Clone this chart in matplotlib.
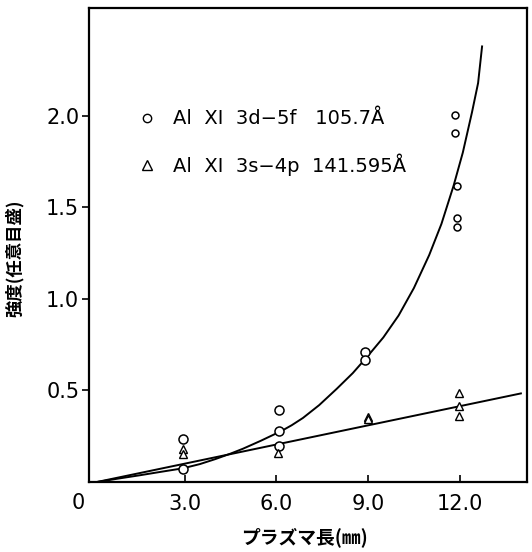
import numpy as np
import matplotlib
matplotlib.use('Agg')
import matplotlib.pyplot as plt
from matplotlib.lines import Line2D

# circles: Al XI 3d-5f 105.7A
circle_x = [2.95, 2.95, 6.1, 6.1, 6.1, 8.9, 8.9, 11.85, 11.85, 11.9, 11.9, 11.9]
circle_y = [0.233, 0.069, 0.391, 0.277, 0.195, 0.713, 0.664, 2.005, 1.907, 1.618, 1.443, 1.395]

# triangles: Al XI 3s-4p 141.595A
tri_x = [2.95, 2.95, 6.05, 9.0, 9.0, 11.98, 11.98, 11.98]
tri_y = [0.178, 0.151, 0.157, 0.353, 0.343, 0.484, 0.418, 0.358]

# hand drawn curve through the circles
curve_x = [0.13, 0.8, 1.54, 2.2, 2.95, 3.5, 4.0, 4.5, 4.91, 5.5, 6.18, 6.5, 6.87, 7.4, 7.98,
           8.5, 9.0, 9.5, 10.0, 10.5, 11.0, 11.4, 11.8, 12.1, 12.4, 12.6, 12.73]
curve_y = [0.0, 0.018, 0.037, 0.055, 0.075, 0.098, 0.125, 0.155, 0.182, 0.226, 0.28, 0.31, 0.35, 0.42, 0.51,
           0.595, 0.69, 0.79, 0.91, 1.06, 1.24, 1.41, 1.62, 1.8, 2.02, 2.18, 2.38]

# straight line through the triangles
line_x = [0.13, 14.0]
line_y = [0.0, 0.484]

xticks = [3.0, 6.0, 9.0, 12.0]
yticks = [0.5, 1.0, 1.5, 2.0]

labels = ['Al  XI  3d\u22125f   105.7\u00c5', 'Al  XI  3s\u22124p  141.595\u00c5']

plt.rcParams['font.family'] = ['DejaVu Sans']
jp = ['Noto Sans CJK JP', 'DejaVu Sans']

fig = plt.figure(figsize=(5.32, 5.52), dpi=100)
ax = fig.add_axes([89/532, 1-482/552, (527-89)/532, (482-8)/552])

ax.plot(curve_x, curve_y, color='black', lw=1.4)
ax.plot(line_x, line_y, color='black', lw=1.4)

cx = np.array(circle_x); cy = np.array(circle_y)
big = cx < 11
ax.plot(cx[big], cy[big], 'o', ms=6.5, mfc='white', mec='black', mew=1.1, ls='none')
ax.plot(cx[~big], cy[~big], 'o', ms=5, mfc='white', mec='black', mew=1.1, ls='none')
ax.plot(tri_x, tri_y, '^', ms=6, mfc='white', mec='black', mew=1.0, ls='none')

ax.set_xlim(-0.13, 14.2)
ax.set_ylim(0, 2.59)
ax.set_xticks(xticks)
ax.set_xticklabels([f'{v:.1f}' for v in xticks])
ax.set_yticks(yticks)
ax.set_yticklabels([f'{v:.1f}' for v in yticks])
ax.tick_params(axis='x', direction='in', length=5, width=1.2, pad=9, labelsize=15)
ax.tick_params(axis='y', direction='out', length=5, width=1.2, pad=2, labelsize=15)
for s in ax.spines.values():
    s.set_linewidth(1.6)

ax.annotate('0', xy=(0, 0), xytext=(-15, -21), textcoords='offset pixels',
            ha='center', va='center', fontsize=15)

ax.set_xlabel('プラズマ長(㎜)', family=jp, fontsize=13.5, fontweight='bold')
ax.xaxis.set_label_coords(0.491, -0.095)
ax.set_ylabel('強度(任意目盛)', family=jp, fontsize=12.5, fontweight='bold')
ax.yaxis.set_label_coords(-0.148, 0.473)

handles = [Line2D([], [], marker='o', ls='none', ms=6, mfc='white', mec='black', mew=1.0),
           Line2D([], [], marker='^', ls='none', ms=7, mfc='white', mec='black', mew=1.0)]
ax.legend(handles, labels, loc='upper left', bbox_to_anchor=(0.071, 0.823), frameon=False,
          fontsize=14, handlelength=1.0, handletextpad=0.8, labelspacing=1.3)

fig.savefig('out.png', dpi=100)
